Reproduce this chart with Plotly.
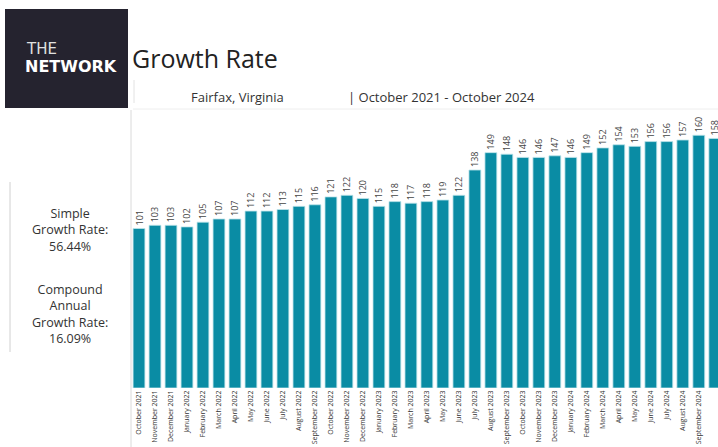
import plotly.graph_objects as go

months = ["October 2021", "November 2021", "December 2021", "January 2022", "February 2022",
          "March 2022", "April 2022", "May 2022", "June 2022", "July 2022", "August 2022",
          "September 2022", "October 2022", "November 2022", "December 2022", "January 2023",
          "February 2023", "March 2023", "April 2023", "May 2023", "June 2023", "July 2023",
          "August 2023", "September 2023", "October 2023", "November 2023", "December 2023",
          "January 2024", "February 2024", "March 2024", "April 2024", "May 2024", "June 2024",
          "July 2024", "August 2024", "September 2024", "October 2024"]
values = [101, 103, 103, 102, 105, 107, 107, 112, 112, 113, 115, 116, 121, 122, 120, 115,
          118, 117, 118, 119, 122, 138, 149, 148, 146, 146, 147, 146, 149, 152, 154, 153,
          156, 156, 157, 160, 158]
simple_rate = "56.44%"
cagr = "16.09%"

W, H = 718, 447
L, R, T, B = 131, 0, 110, 59
PW, PH = W - L - R, H - T - B

def px(x):
    return (x - L) / PW

def py(y):
    return (H - B - y) / PH

FONT = "Open Sans"

fig = go.Figure(go.Bar(
    x=list(range(len(months))), y=values,
    marker=dict(color="#0A8CA4", line=dict(color="#BFE4EB", width=0.8)),
    text=[str(v) for v in values], textposition="outside", textangle=-90,
    textfont=dict(size=9, color="#444444", family=FONT),
    constraintext="none", cliponaxis=True,
))

fig.update_layout(
    width=W, height=H, margin=dict(l=L, r=R, t=T, b=B),
    paper_bgcolor="white", plot_bgcolor="white",
    bargap=0.26, showlegend=False,
    xaxis=dict(range=[-0.5, 36.2], tickmode="array", tickvals=list(range(len(months))),
               ticktext=months, tickangle=-90, tickfont=dict(size=7, color="#333333", family=FONT),
               showgrid=False, zeroline=False, showline=False, ticks=""),
    yaxis=dict(range=[0, 176], visible=False, showgrid=False),
)

shapes = [
    dict(type="rect", xref="paper", yref="paper", x0=px(5), x1=px(128), y0=py(108), y1=py(9),
         fillcolor="#25232F", line=dict(width=0), layer="above"),
    dict(type="line", xref="paper", yref="paper", x0=px(134), x1=px(134), y0=py(80), y1=py(103),
         line=dict(color="#E2E2E2", width=1)),
    dict(type="line", xref="paper", yref="paper", x0=px(133), x1=px(718), y0=py(109), y1=py(109),
         line=dict(color="#EEEEEE", width=1)),
    dict(type="line", xref="paper", yref="paper", x0=px(131), x1=px(131), y0=py(110), y1=py(447),
         line=dict(color="#DADADA", width=1)),
    dict(type="line", xref="paper", yref="paper", x0=px(10), x1=px(10), y0=py(182), y1=py(352),
         line=dict(color="#D0D0D0", width=1)),
]
fig.update_layout(shapes=shapes)

ann = []
def add(text, x, y, size, color="#333333", family=FONT, xanchor="left", **kw):
    ann.append(dict(text=text, x=px(x), y=py(y), xref="paper", yref="paper", showarrow=False,
                    xanchor=xanchor, yanchor="middle", font=dict(size=size, color=color, family=family), **kw))

add("THE", 24, 49, 15, color="#E0E0E0", family="DejaVu Sans")
add("<b>NETWORK</b>", 23, 66, 16, color="#FFFFFF", family="DejaVu Sans")
add("Growth Rate", 130, 58, 25, color="#222222")
add("Fairfax, Virginia", 189, 97, 13, color="#333333")
add("| October 2021 - October 2024", 346, 97, 13, color="#333333")
add("Simple<br>Growth Rate:<br>" + simple_rate, 70, 230, 12.5, xanchor="center", align="center")
add("Compound<br>Annual<br>Growth Rate:<br>" + cagr, 70, 314, 12.5, xanchor="center", align="center")
fig.update_layout(annotations=ann)

fig.write_html("out.html", config={"displayModeBar": False},
               post_script="document.body.style.margin='0';document.body.style.padding='0';")
